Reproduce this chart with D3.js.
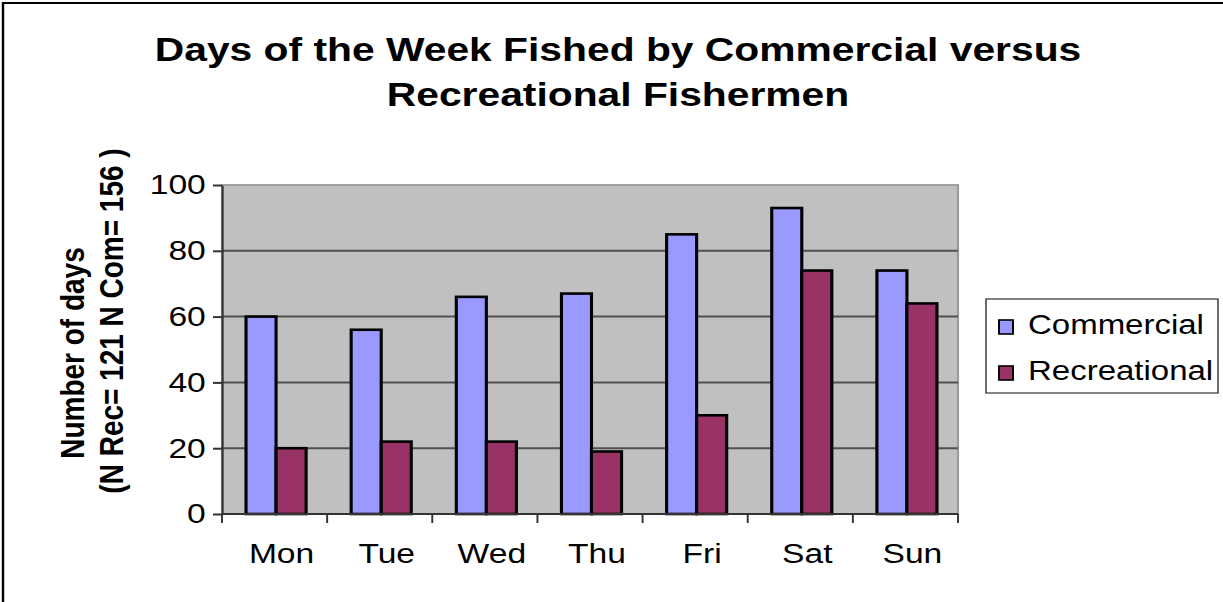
<!DOCTYPE html>
<html>
<head>
<meta charset="utf-8">
<script src="https://cdn.jsdelivr.net/npm/d3@7"></script>
<style>
    body { margin: 0; background: #ffffff; }
    text { font-family: "Liberation Sans", Arial, sans-serif; fill: #000000; }
</style>
</head>
<body>
<div id="data-viz"></div>
<script>
const days = ["Mon", "Tue", "Wed", "Thu", "Fri", "Sat", "Sun"]
const seriesNames = ["Commercial", "Recreational"]
const commercial = [60, 56, 66, 67, 85, 93, 74]
const recreational = [20, 22, 22, 19, 30, 74, 64]
const yTicks = [0, 20, 40, 60, 80, 100]
const titleLines = ["Days of the Week Fished by Commercial versus", "Recreational Fishermen"]
const yTitleLines = ["Number of days", "(N Rec= 121 N Com= 156 )"]

function drawChart() {
    const width = 1223
    const height = 602
    // the original excel export is stretched sideways, so draw in a narrower box and let the viewBox widen it
    const stretch = 1.2
    const lw = width / stretch

    const colors = {Commercial: "#9999ff", Recreational: "#993366"}

    const plot = {left: 222 / stretch, right: 958 / stretch, top: 185, bottom: 514}

    const data = days.map((d, i) => ({day: d, Commercial: commercial[i], Recreational: recreational[i]}))

    const svg = d3.select("#data-viz").append("svg")
        .attr("width", width)
        .attr("height", height)
        .attr("viewBox", `0 0 ${lw} ${height}`)
        .attr("preserveAspectRatio", "none")
        .style("display", "block")

    svg.append("rect")
        .attr("x", 2.5)
        .attr("y", 3)
        .attr("width", lw + 20)
        .attr("height", height + 20)
        .attr("fill", "#ffffff")
        .attr("stroke", "#000000")
        .attr("stroke-width", 2)

    svg.selectAll(".title")
        .data(titleLines)
        .join("text")
        .attr("class", "title")
        .attr("x", 618 / stretch)
        .attr("y", (d, i) => 61 + i * 45)
        .attr("text-anchor", "middle")
        .attr("font-size", 34)
        .attr("font-weight", "bold")
        .text(d => d)

    const x0 = d3.scaleBand()
        .domain(days)
        .range([plot.left, plot.right])

    const x1 = d3.scaleBand()
        .domain(seriesNames)
        .range([0, x0.bandwidth()])
        .paddingOuter(0.75)

    const y = d3.scaleLinear()
        .domain([0, 100])
        .range([plot.bottom, plot.top])

    // plot area
    svg.append("rect")
        .attr("x", plot.left)
        .attr("y", plot.top)
        .attr("width", plot.right - plot.left)
        .attr("height", plot.bottom - plot.top)
        .attr("fill", "#c0c0c0")
        .attr("stroke", "#9a9a9a")
        .attr("stroke-width", 1.8)

    svg.selectAll(".grid")
        .data(yTicks.filter(t => t > 0 && t < 100))
        .join("line")
        .attr("class", "grid")
        .attr("x1", plot.left)
        .attr("x2", plot.right)
        .attr("y1", d => y(d))
        .attr("y2", d => y(d))
        .attr("stroke", "#505050")
        .attr("stroke-width", 2)

    const groups = svg.selectAll(".day")
        .data(data)
        .join("g")
        .attr("class", "day")
        .attr("transform", d => `translate(${x0(d.day) + 1.5 / stretch},0)`)

    groups.selectAll("rect")
        .data(d => seriesNames.map(s => ({series: s, value: d[s]})))
        .join("rect")
        .attr("x", d => x1(d.series))
        .attr("y", d => y(d.value))
        .attr("width", x1.bandwidth())
        .attr("height", d => y(0) - y(d.value))
        .attr("fill", d => colors[d.series])
        .attr("stroke", "#000000")
        .attr("stroke-width", 2.6)

    // y axis
    const yAxis = svg.append("g")
        .attr("transform", `translate(${plot.left},0)`)
        .call(d3.axisLeft(y)
            .tickValues(yTicks)
            .tickSizeInner(9 / stretch)
            .tickSizeOuter(0)
            .tickPadding(6))
    yAxis.select(".domain").attr("stroke", "#333333").attr("stroke-width", 1.8)
    yAxis.selectAll(".tick line").attr("stroke", "#333333").attr("stroke-width", 2)
    yAxis.selectAll(".tick text")
        .attr("font-size", 28)
        .attr("font-family", "Liberation Sans, Arial, sans-serif")
        .attr("fill", "#000000")

    // x axis with ticks between the categories
    const xAxis = svg.append("g")
    xAxis.append("line")
        .attr("x1", plot.left)
        .attr("x2", plot.right)
        .attr("y1", y(0))
        .attr("y2", y(0))
        .attr("stroke", "#333333")
        .attr("stroke-width", 2)
    xAxis.selectAll(".xtick")
        .data(days.map(d => x0(d)).concat([x0.range()[1]]))
        .join("line")
        .attr("class", "xtick")
        .attr("x1", d => d)
        .attr("x2", d => d)
        .attr("y1", y(0))
        .attr("y2", y(0) + 9)
        .attr("stroke", "#333333")
        .attr("stroke-width", 1.6)
    xAxis.selectAll(".xlabel")
        .data(days)
        .join("text")
        .attr("class", "xlabel")
        .attr("x", d => x0(d) + x0.bandwidth() / 2 + 7 / stretch)
        .attr("y", 563)
        .attr("text-anchor", "middle")
        .attr("font-size", 28)
        .text(d => d)

    // y axis title
    const yTitlePos = [{x: 72, y: 353}, {x: 111, y: 321}]
    svg.selectAll(".ytitle")
        .data(yTitleLines)
        .join("text")
        .attr("class", "ytitle")
        .attr("transform", (d, i) => `translate(${yTitlePos[i].x / stretch},${yTitlePos[i].y}) rotate(-90)`)
        .attr("dy", "0.35em")
        .attr("text-anchor", "middle")
        .attr("font-size", 28)
        .attr("font-weight", "bold")
        .text(d => d)

    // legend
    const legend = svg.append("g")
    legend.append("rect")
        .attr("x", 986 / stretch)
        .attr("y", 299)
        .attr("width", (1218 - 986) / stretch)
        .attr("height", 94)
        .attr("fill", "#ffffff")
        .attr("stroke", "#333333")
        .attr("stroke-width", 1.2)

    const items = legend.selectAll(".legend-item")
        .data(seriesNames)
        .join("g")
        .attr("class", "legend-item")
        .attr("transform", (d, i) => `translate(0,${334 + i * 46})`)

    items.append("rect")
        .attr("x", 999 / stretch)
        .attr("y", -14)
        .attr("width", 14 / stretch)
        .attr("height", 14)
        .attr("fill", d => colors[d])
        .attr("stroke", "#000000")
        .attr("stroke-width", 1.6)

    items.append("text")
        .attr("x", 1028 / stretch)
        .attr("y", 0)
        .attr("font-size", 27.5)
        .text(d => d)
}

drawChart()
</script>
</body>
</html>
